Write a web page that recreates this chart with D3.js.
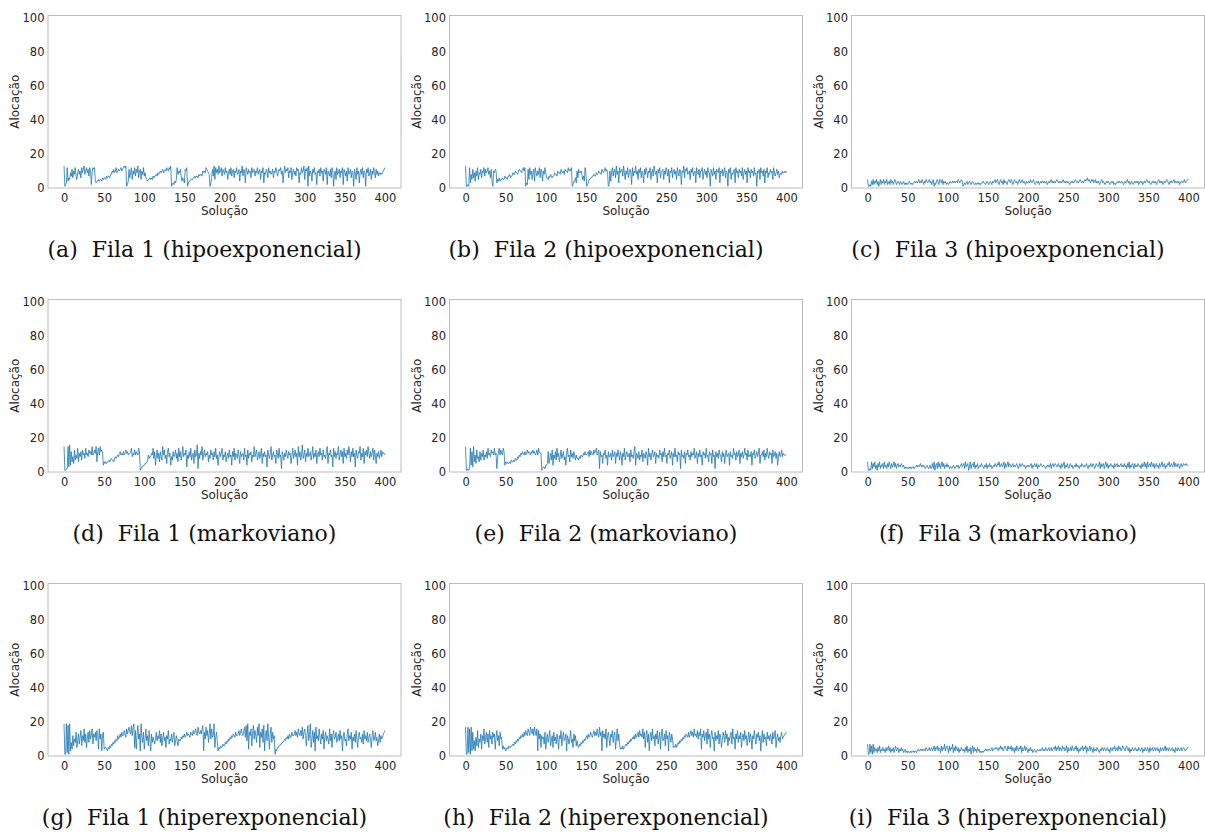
<!DOCTYPE html>
<html>
<head>
<meta charset="utf-8">
<script src="https://cdn.jsdelivr.net/npm/d3@7"></script>
<style>
  body { margin: 0; background: #fff; }
  svg { display: block; }
  .tick text { font-family: "DejaVu Sans", sans-serif; font-size: 11.5px; fill: #262626; }
</style>
</head>
<body>
<svg id="chart" width="1205" height="833"></svg>
<script>
// tick labels
var xTicks = [0, 50, 100, 150, 200, 250, 300, 350, 400];
var yTicks = [0, 20, 40, 60, 80, 100];

// one value per solution (index 0..400)
var fila1Hipo = [
  13,1,2,3,12,4,6,5,9,7,11,6,10,8,12,7,5,9,11,8,
  10,6,12,9,11,13,8,10,12,9,11,7,12,10,2,9,12,11,12,4,
  3,4,4,5,4,5,5,4,6,5,6,6,5,7,6,7,7,6,8,8,
  10,9,11,9,10,12,9,10,11,10,11,12,10,11,12,13,12,13,1,2,
  4,11,6,9,12,5,10,8,12,7,11,9,13,6,10,11,5,10,8,12,
  7,9,6,5,4,5,5,6,5,6,5,7,6,7,7,8,7,9,8,9,
  10,9,10,11,9,10,11,10,12,11,10,12,11,13,1,2,3,2,4,3,
  5,12,8,10,9,11,7,4,6,5,3,11,10,12,1,3,4,4,5,5,
  5,6,6,7,6,7,7,6,8,7,8,8,7,10,9,10,9,12,11,10,
  9,8,1,3,6,11,7,13,5,12,9,11,8,13,9,10,12,7,11,10,
  8,12,9,10,5,9,11,8,12,7,10,11,6,10,9,12,8,9,11,4,
  10,9,13,7,11,10,3,12,10,8,11,9,10,6,12,9,10,11,7,10,
  9,12,8,10,11,5,10,9,12,3,9,8,11,10,6,12,9,10,8,9,
  11,6,10,9,12,10,7,9,11,10,12,8,10,3,9,13,9,11,10,12,
  6,10,9,12,5,9,11,8,10,7,12,10,11,3,9,8,12,9,10,13,
  5,11,10,12,1,13,7,10,9,4,11,9,12,8,9,2,10,9,11,7,
  12,9,10,4,11,10,8,12,2,10,9,7,11,6,12,10,1,8,10,5,
  12,8,9,11,6,10,9,12,2,11,9,7,10,4,12,8,9,11,6,10,
  9,1,11,9,5,12,8,10,3,9,11,8,12,6,10,9,1,11,9,12,
  7,9,11,5,10,8,12,9,6,11,8,10,7,9,8,9,8,9,10,11,
  12
];
var fila2Hipo = [
  13,1,1,2,1,12,3,8,5,11,6,9,4,10,7,12,5,9,8,11,
  6,10,9,12,7,11,9,10,12,8,10,6,11,4,1,10,9,11,10,3,
  5,4,6,4,5,5,6,5,5,7,6,6,5,7,7,8,6,7,7,9,
  8,8,10,9,9,8,10,11,10,10,9,11,12,10,12,1,3,2,11,5,
  12,8,10,5,9,11,4,12,9,7,10,8,12,6,11,10,4,10,8,12,
  9,6,6,5,7,6,8,7,6,7,7,9,8,8,7,10,9,9,8,11,
  10,9,10,8,11,10,10,9,12,10,11,10,12,1,2,4,4,6,3,10,
  6,11,9,9,10,8,5,7,4,12,9,1,2,3,5,5,6,6,7,7,
  8,7,7,9,8,8,10,9,9,8,11,10,9,10,12,10,11,9,1,2,
  10,4,9,12,7,10,11,6,13,8,10,3,12,9,10,11,7,13,9,5,
  10,8,12,6,9,11,9,2,12,7,10,9,13,8,10,5,11,9,12,6,
  10,9,3,11,8,12,10,6,10,9,12,5,9,11,7,13,10,8,10,3,
  11,9,12,6,9,10,11,5,10,8,12,10,7,11,3,10,9,12,6,10,
  11,8,10,5,12,9,7,11,10,2,10,9,13,6,11,10,12,8,9,10,
  5,11,9,12,7,9,10,3,12,9,8,11,6,10,10,12,5,9,11,8,
  10,6,12,9,9,1,11,9,7,12,8,10,5,11,10,9,12,3,10,9,
  11,7,10,12,6,10,9,1,11,9,12,5,9,8,10,11,3,12,9,10,
  6,11,9,10,7,12,5,9,11,8,10,3,12,9,10,6,11,9,10,7,
  12,8,9,1,10,9,11,5,12,9,10,7,11,3,10,9,12,6,9,8,
  11,9,10,5,12,9,7,9,11,8,10,6,8,9,8,10,9,9,10,9,
  10
];
var fila3Hipo = [
  5,1,1,2,1,4,2,5,2,4,3,5,2,4,1,3,5,2,4,3,
  5,2,4,3,5,2,3,4,2,5,3,4,2,3,5,4,2,3,4,3,
  2,4,3,2,3,4,2,3,2,3,2,3,4,3,2,3,2,3,3,4,
  3,4,3,4,5,3,4,3,5,4,2,4,3,5,4,3,4,5,3,4,
  2,4,5,1,3,2,4,5,3,2,5,4,3,5,2,4,3,4,2,3,
  3,2,3,4,3,3,4,3,4,3,4,4,3,5,4,3,4,5,4,1,
  2,3,2,3,4,2,3,4,3,2,3,4,3,2,2,3,2,3,3,2,
  3,2,3,3,4,3,3,2,3,4,3,2,3,4,3,2,4,3,4,5,
  3,4,5,3,2,4,5,3,4,2,5,3,4,3,2,4,5,4,3,5,
  4,2,3,5,4,3,4,2,3,5,4,3,4,5,3,4,3,2,4,3,
  3,4,3,5,4,3,4,5,3,2,3,4,3,4,2,3,4,3,4,3,
  4,3,3,4,2,3,4,3,4,5,3,4,3,4,3,4,5,4,3,4,
  3,4,3,4,5,3,4,3,4,3,4,3,2,3,4,3,4,3,4,5,
  4,3,4,3,4,5,4,3,4,3,4,5,4,5,6,4,5,4,3,5,
  4,5,3,4,5,3,4,3,4,2,3,4,5,3,4,3,2,3,4,3,
  4,3,2,3,4,3,4,2,3,2,3,3,4,3,4,3,3,4,3,2,
  3,4,3,4,5,3,4,2,3,4,3,2,3,4,3,4,3,4,2,3,
  4,3,4,2,3,4,3,4,5,4,3,4,3,2,3,4,3,4,3,4,
  2,3,4,5,3,4,3,4,2,3,4,3,4,5,4,3,2,4,3,4,
  3,4,5,3,4,3,4,3,4,2,3,4,4,3,4,5,3,4,4,5,
  5
];
var fila1Markov = [
  15,1,1,2,2,15,3,16,4,12,6,9,5,13,7,10,8,14,6,11,
  9,12,7,13,10,11,8,14,10,11,9,13,11,12,10,15,10,11,13,11,
  15,6,12,14,10,15,12,13,11,4,6,5,6,5,6,6,7,6,7,8,
  7,7,6,8,9,8,9,10,9,11,12,10,11,10,12,10,11,13,11,12,
  10,11,11,12,14,9,11,10,13,10,12,11,10,14,12,1,2,3,3,4,
  4,5,5,6,6,10,8,9,9,11,10,14,8,12,4,9,13,8,11,6,
  12,9,7,15,10,13,8,10,5,12,14,9,11,4,9,7,12,9,10,13,
  8,11,6,14,9,12,7,10,15,9,11,10,13,3,10,8,12,9,14,7,
  10,11,5,13,9,10,16,2,11,8,12,10,15,7,10,13,9,11,10,12,
  6,10,8,13,10,11,7,12,9,14,8,10,4,9,12,9,11,14,7,10,
  9,12,6,9,11,8,13,9,10,4,12,9,14,7,11,10,8,13,10,5,
  12,9,10,11,7,14,9,10,4,13,8,11,10,12,6,10,9,15,9,11,
  13,7,9,12,8,10,14,5,11,9,12,9,10,3,13,10,8,11,15,7,
  10,12,9,10,5,13,11,8,14,9,10,2,12,10,7,11,9,13,10,8,
  12,10,11,5,9,14,8,10,13,9,11,4,15,9,12,7,10,16,8,10,
  13,6,11,9,14,9,10,12,7,10,15,8,11,9,13,5,10,12,9,14,
  10,11,7,13,9,10,8,12,15,5,11,10,13,9,10,3,14,9,12,8,
  11,10,15,7,10,13,9,12,5,14,9,11,8,13,10,15,11,6,12,9,
  14,9,11,3,13,10,8,12,11,15,7,11,9,14,5,12,10,13,9,15,
  11,8,12,9,11,14,7,13,10,5,11,9,12,8,10,13,9,12,11,11,
  10
];
var fila2Markov = [
  15,1,1,2,1,2,14,4,12,3,15,6,10,5,13,8,9,6,12,7,
  11,9,13,7,10,9,12,8,14,10,11,9,13,11,12,10,14,10,11,2,
  8,12,14,10,13,11,10,14,12,4,6,5,6,5,5,6,5,7,6,6,
  7,6,8,7,7,9,8,10,9,11,10,12,11,10,12,10,11,13,11,12,
  11,10,12,11,13,11,12,10,11,13,10,14,12,11,11,1,2,3,3,2,
  4,4,5,12,5,8,11,7,13,4,10,8,12,7,14,9,11,6,9,13,
  8,10,12,7,9,4,11,14,9,10,6,13,9,11,8,12,10,7,10,8,
  8,7,9,8,10,9,9,11,10,12,10,10,11,12,9,13,10,12,11,10,
  13,11,12,14,10,11,13,2,12,9,10,5,11,10,13,8,10,4,12,9,
  9,11,7,13,9,10,12,5,11,9,13,10,7,12,10,4,11,9,14,7,
  10,12,9,9,11,6,13,9,10,8,12,15,4,11,10,8,12,7,10,9,
  13,6,11,10,8,12,10,4,14,9,11,7,10,13,9,10,12,5,11,9,
  10,8,13,10,11,6,12,9,14,9,10,5,11,10,13,8,10,12,4,11,
  9,14,9,10,6,12,10,11,2,13,9,10,8,12,5,11,10,13,9,10,
  7,12,9,11,10,14,8,10,12,5,11,9,13,9,10,4,12,10,11,8,
  14,9,10,6,12,10,11,5,13,9,10,2,12,9,11,8,13,10,10,6,
  12,9,11,5,10,13,9,10,11,4,12,9,10,8,14,10,11,7,12,9,
  10,13,5,11,9,12,8,10,14,10,11,7,13,9,10,9,12,4,11,10,
  13,8,10,12,9,11,14,5,10,10,12,9,13,7,11,9,14,10,8,12,
  10,11,5,13,9,10,12,8,11,4,9,12,9,10,13,9,11,10,10,10,
  10
];
var fila3Markov = [
  6,1,1,2,1,6,2,5,3,6,2,4,1,5,3,6,2,4,3,5,
  2,6,3,4,2,5,3,6,4,2,5,3,4,6,3,5,2,4,5,3,
  4,3,5,4,3,4,2,3,2,3,2,2,3,2,3,2,3,3,2,3,
  3,4,3,4,3,4,5,3,4,3,4,3,2,3,4,3,2,3,4,2,
  3,5,2,6,1,4,5,2,6,3,5,2,4,6,3,5,2,4,3,5,
  3,4,2,3,3,2,3,4,3,2,3,4,3,4,2,3,4,5,3,4,
  5,2,6,3,4,5,1,3,6,2,4,5,3,6,2,4,3,5,2,3,
  4,3,5,4,3,2,4,3,5,2,4,3,5,3,4,2,3,4,3,5,
  4,3,5,4,6,3,4,5,3,4,6,2,5,3,4,6,3,5,4,3,
  4,5,3,4,3,4,5,3,2,4,5,3,4,5,4,3,4,2,3,4,
  3,4,3,4,5,2,4,3,5,4,3,5,2,4,3,4,5,4,3,4,
  4,3,2,3,4,3,4,3,5,2,4,5,3,4,5,4,3,4,5,3,
  4,2,5,3,4,6,2,4,3,5,3,2,4,5,3,4,2,3,4,3,
  5,3,4,3,2,4,3,5,4,3,4,3,4,5,3,2,4,3,5,4,
  3,5,4,2,3,5,4,3,4,6,2,5,3,4,5,2,4,6,3,5,
  2,4,3,5,4,3,4,2,5,3,4,5,3,4,3,4,5,3,4,3,
  5,3,4,2,5,3,6,2,4,3,5,4,2,5,3,4,3,5,4,3,
  4,2,5,3,4,6,3,5,2,6,3,4,5,3,6,4,3,5,2,4,
  5,3,4,2,5,3,4,6,3,4,5,2,4,3,5,4,6,3,4,5,
  3,4,6,3,5,4,3,5,4,2,4,5,3,4,5,4,4,5,4,4,
  4
];
var fila1Hiper = [
  19,1,1,19,2,18,1,19,3,8,4,12,6,10,8,14,5,9,13,7,
  11,15,6,12,9,16,8,13,5,10,14,8,15,10,12,16,7,13,11,14,
  9,15,12,4,16,10,13,3,12,14,4,5,5,4,3,5,4,6,5,7,
  6,8,7,9,8,10,9,12,10,11,13,11,14,12,12,15,13,11,16,13,
  15,17,14,13,18,12,16,19,5,15,4,12,18,10,13,3,19,11,8,14,
  4,10,16,9,12,6,15,10,3,13,8,11,9,7,10,14,9,12,10,15,
  8,13,6,10,14,9,11,5,12,10,15,7,10,9,13,8,11,14,6,9,
  12,9,6,10,9,9,11,10,12,11,13,11,12,14,12,13,12,11,14,13,
  12,15,13,14,16,13,12,17,14,13,15,13,16,18,3,14,10,17,12,15,
  8,13,19,10,16,11,12,19,5,11,14,9,3,5,4,6,5,5,7,6,
  6,8,7,9,8,10,9,11,10,12,11,13,12,11,14,12,12,13,15,12,
  14,16,13,12,15,17,11,18,9,19,4,14,12,16,6,13,18,10,15,12,
  8,17,12,19,5,14,11,16,8,18,3,12,15,9,19,11,4,13,17,8,
  14,10,12,1,4,3,5,5,6,6,7,7,8,8,9,10,9,11,10,12,
  10,13,11,11,14,12,12,13,15,12,14,11,16,13,12,15,12,17,10,14,
  16,12,6,13,18,9,12,19,5,10,15,8,14,3,17,10,12,9,16,11,
  7,13,10,15,4,11,14,9,12,10,7,16,9,13,5,12,15,10,11,14,
  8,10,13,9,15,10,12,3,11,14,9,10,6,13,16,9,12,10,14,4,
  11,9,13,8,15,10,5,12,14,10,11,8,13,7,15,10,12,9,14,8,
  11,13,10,5,12,15,9,10,14,9,11,6,9,13,8,12,10,11,13,14,
  15
];
var fila2Hiper = [
  17,1,1,17,2,16,1,17,3,14,4,9,3,11,6,15,5,10,8,13,
  4,12,9,16,7,11,14,8,13,5,15,10,12,7,14,11,13,4,11,15,
  9,12,6,14,10,11,4,6,4,5,3,4,5,4,6,5,5,6,6,7,
  6,8,7,9,8,10,9,11,10,12,11,13,11,14,12,15,13,12,16,14,
  12,17,15,13,16,12,17,14,12,16,3,15,10,13,5,12,10,11,7,14,
  4,10,13,8,11,15,6,9,12,5,14,9,11,7,13,10,4,12,10,15,
  6,11,14,9,10,13,3,12,10,7,11,15,8,10,5,13,9,12,6,9,
  6,5,7,6,8,7,9,8,10,9,11,12,10,13,11,12,14,12,11,13,
  15,12,14,12,16,13,11,17,12,14,3,15,11,13,10,16,5,12,14,10,
  6,13,11,15,8,12,14,4,10,16,9,13,7,4,5,4,6,4,5,6,
  7,6,8,7,9,8,10,9,11,10,12,10,13,11,12,14,11,15,12,13,
  11,16,10,14,5,12,15,8,13,3,11,14,9,16,10,12,6,13,10,15,
  7,11,14,4,12,16,9,10,13,6,15,10,12,3,14,11,8,13,10,5,
  6,5,7,5,6,8,7,9,8,10,9,11,10,12,11,13,12,11,14,11,
  13,15,12,14,11,16,12,13,11,15,10,14,12,16,4,13,11,15,9,12,
  14,7,16,10,13,5,12,15,10,11,3,14,9,12,10,15,7,13,11,5,
  9,14,12,8,15,10,13,6,11,9,12,14,7,16,10,11,4,13,10,15,
  8,12,10,14,5,11,13,9,15,10,12,6,10,14,8,13,11,4,12,10,
  15,10,7,13,11,14,9,12,3,10,15,8,13,10,11,6,14,10,12,9,
  13,11,7,14,10,12,15,5,10,13,9,11,8,12,14,10,11,12,13,13,
  14
];
var fila3Hiper = [
  7,1,1,7,2,6,1,7,2,5,3,4,2,5,3,6,2,4,3,5,
  3,4,2,5,3,4,6,3,5,2,4,3,5,2,4,6,3,4,5,2,
  4,3,5,3,4,2,3,4,2,3,2,3,2,2,3,2,3,3,2,3,
  3,2,3,4,3,3,4,3,4,3,4,4,3,5,4,3,4,5,3,4,
  5,3,4,6,3,5,4,6,3,5,4,2,6,3,5,4,7,3,5,6,
  4,2,6,3,5,4,7,2,5,3,6,4,3,5,2,4,3,5,4,3,
  4,2,5,3,6,2,4,3,5,1,4,6,2,5,3,4,2,5,3,4,
  2,3,2,3,2,3,3,4,3,4,3,4,4,3,4,5,3,4,4,5,
  4,5,4,3,5,4,6,4,5,3,4,6,5,4,3,6,4,5,4,6,
  3,5,4,2,5,3,6,4,3,5,4,6,2,5,3,4,6,3,5,4,
  2,4,3,5,3,4,2,3,4,3,2,3,4,3,3,4,3,4,5,3,
  4,3,5,4,3,4,5,3,4,5,3,4,5,4,6,3,5,4,6,3,
  5,4,3,6,4,5,3,4,6,2,5,3,4,5,3,6,4,3,5,4,
  6,3,5,2,4,3,5,4,6,3,5,4,6,2,5,3,4,6,3,5,
  4,2,5,3,4,3,5,4,3,2,4,3,5,4,3,5,4,3,4,5,
  3,4,2,5,4,3,5,4,6,3,4,5,3,6,4,5,3,4,6,5,
  4,3,5,6,4,3,5,2,4,3,5,4,3,4,5,3,4,3,5,4,
  3,4,5,2,4,3,5,4,3,5,4,2,5,3,4,5,3,4,5,3,
  4,5,3,4,2,5,3,4,5,3,4,6,3,5,4,3,5,4,3,4,
  5,3,4,2,5,4,3,5,4,3,4,5,3,4,5,4,3,4,4,5,
  5
];

var panels = [
  { label: "(a)", title: "Fila 1 (hipoexponencial)", values: fila1Hipo },
  { label: "(b)", title: "Fila 2 (hipoexponencial)", values: fila2Hipo },
  { label: "(c)", title: "Fila 3 (hipoexponencial)", values: fila3Hipo },
  { label: "(d)", title: "Fila 1 (markoviano)", values: fila1Markov },
  { label: "(e)", title: "Fila 2 (markoviano)", values: fila2Markov },
  { label: "(f)", title: "Fila 3 (markoviano)", values: fila3Markov },
  { label: "(g)", title: "Fila 1 (hiperexponencial)", values: fila1Hiper },
  { label: "(h)", title: "Fila 2 (hiperexponencial)", values: fila2Hiper },
  { label: "(i)", title: "Fila 3 (hiperexponencial)", values: fila3Hiper }
];

var svg = d3.select("#chart");

// layout of the 3x3 grid
var colCenter = [204.5, 606, 1008];
var rowTop = [15.5, 299.5, 583.5];
var plotW = 353, plotH = 172.5;
var captionBase = [257, 541, 825];

panels.forEach(function (p, i) {
  var col = i % 3, row = Math.floor(i / 3);
  var left = colCenter[col] - 156.5;
  var top = rowTop[row];

  var x = d3.scaleLinear().domain([-20, 420]).range([left, left + plotW]);
  var y = d3.scaleLinear().domain([0, 101.6]).range([top + plotH, top]);

  var g = svg.append("g").attr("class", "panel");

  // frame
  g.append("rect")
    .attr("x", left).attr("y", top)
    .attr("width", plotW).attr("height", plotH)
    .attr("fill", "none")
    .attr("stroke", "#bcbcbc")
    .attr("stroke-width", 1);

  // axes (no tick marks, only labels)
  var gx = g.append("g")
    .attr("transform", "translate(0," + (top + plotH) + ")")
    .call(d3.axisBottom(x).tickValues(xTicks).tickSize(0).tickPadding(6));
  gx.select(".domain").remove();

  var gy = g.append("g")
    .attr("transform", "translate(" + left + ",0)")
    .call(d3.axisLeft(y).tickValues(yTicks).tickSize(0).tickPadding(3.5));
  gy.select(".domain").remove();

  g.selectAll(".tick text").attr("font-family", null).attr("font-size", null);

  // series
  var line = d3.line()
    .x(function (d, k) { return x(k); })
    .y(function (d) { return y(d); });

  g.append("path")
    .datum(p.values)
    .attr("d", line)
    .attr("fill", "none")
    .attr("stroke", "#1f77b4")
    .attr("stroke-width", 0.8)
    .attr("stroke-linejoin", "round");

  // axis titles
  g.append("text")
    .attr("x", left + plotW / 2)
    .attr("y", top + plotH + 27)
    .attr("text-anchor", "middle")
    .style("font-family", "DejaVu Sans, sans-serif")
    .style("font-size", "12px")
    .style("fill", "#262626")
    .text("Solução");

  g.append("text")
    .attr("transform", "translate(" + (left - 29) + "," + (top + plotH / 2) + ") rotate(-90)")
    .attr("text-anchor", "middle")
    .style("font-family", "DejaVu Sans, sans-serif")
    .style("font-size", "12px")
    .style("fill", "#262626")
    .text("Alocação");

  // sub caption
  var cap = svg.append("text")
    .attr("x", colCenter[col])
    .attr("y", captionBase[row])
    .attr("text-anchor", "middle")
    .style("font-family", "DejaVu Serif, serif")
    .style("font-size", "22px")
    .style("fill", "#111");
  cap.append("tspan").text(p.label);
  cap.append("tspan").attr("dx", 14).text(p.title);
});
</script>
</body>
</html>
